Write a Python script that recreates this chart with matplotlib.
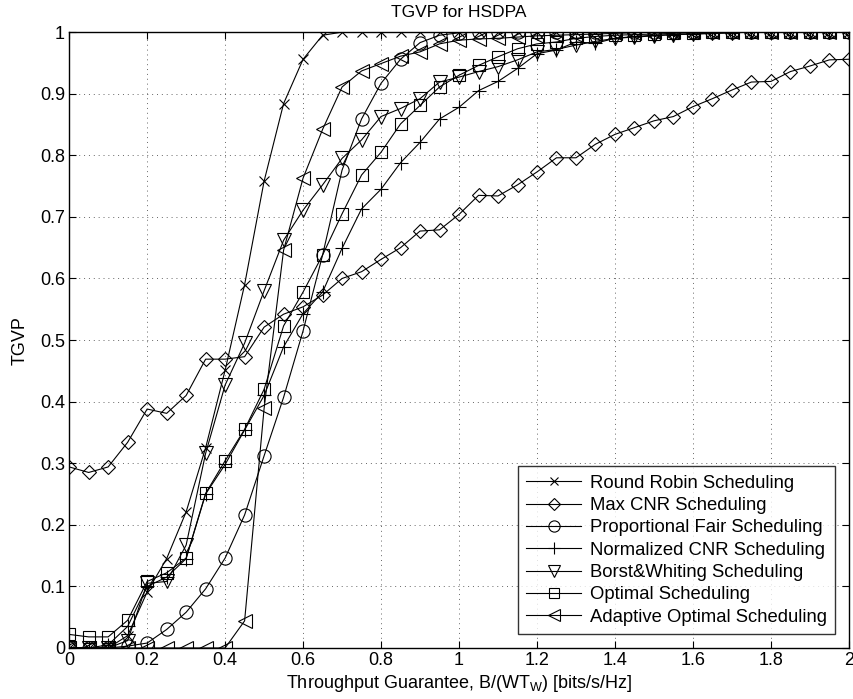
import numpy as np
import matplotlib.pyplot as plt

plt.rcParams['font.family'] = ['Liberation Sans', 'DejaVu Sans']

# 数据: x = 0:0.05:2
x = np.round(np.arange(0, 2.0001, 0.05), 2)

round_robin = [0, 0, 0, 0.02, 0.091, 0.145, 0.221, 0.325, 0.451, 0.590, 0.758, 0.884, 0.956, 0.995,
               1, 1, 1, 1, 1, 1, 1, 1, 1, 1, 1, 1, 1, 1, 1, 1, 1, 1, 1, 1, 1, 1, 1, 1, 1, 1, 1]
max_cnr = [0.294, 0.285, 0.294, 0.334, 0.388, 0.381, 0.410, 0.469, 0.469, 0.473, 0.521, 0.542, 0.554,
           0.573, 0.600, 0.611, 0.631, 0.650, 0.677, 0.679, 0.704, 0.735, 0.734, 0.752, 0.773, 0.796,
           0.796, 0.818, 0.834, 0.845, 0.856, 0.863, 0.879, 0.892, 0.906, 0.919, 0.920, 0.936, 0.945,
           0.955, 0.956]
prop_fair = [0, 0, 0, 0.003, 0.008, 0.030, 0.058, 0.096, 0.146, 0.216, 0.312, 0.407, 0.515, 0.638,
             0.776, 0.859, 0.917, 0.956, 0.983, 0.995, 0.999, 1, 1, 1, 1, 1, 1, 1, 1, 1, 1, 1, 1, 1,
             1, 1, 1, 1, 1, 1, 1]
norm_cnr = [0, 0, 0.005, 0.035, 0.100, 0.115, 0.145, 0.250, 0.298, 0.354, 0.410, 0.489, 0.543, 0.578,
            0.649, 0.713, 0.745, 0.788, 0.821, 0.859, 0.878, 0.905, 0.920, 0.941, 0.965, 0.971, 0.984,
            0.982, 0.990, 0.993, 0.995, 0.996, 0.997, 0.998, 0.999, 1, 1, 1, 1, 1, 1]
borst = [0, 0, 0, 0.012, 0.105, 0.108, 0.167, 0.316, 0.427, 0.495, 0.580, 0.662, 0.711, 0.752, 0.795,
         0.825, 0.863, 0.876, 0.892, 0.919, 0.927, 0.936, 0.944, 0.955, 0.968, 0.972, 0.979, 0.985,
         0.990, 0.992, 0.994, 0.996, 0.997, 0.998, 0.999, 1, 1, 1, 1, 1, 1]
optimal = [0.022, 0.018, 0.018, 0.045, 0.108, 0.122, 0.146, 0.251, 0.304, 0.355, 0.420, 0.523, 0.578,
           0.638, 0.705, 0.768, 0.805, 0.851, 0.881, 0.911, 0.930, 0.946, 0.960, 0.973, 0.981, 0.984,
           0.990, 0.993, 0.995, 0.996, 0.997, 0.998, 0.999, 1, 1, 1, 1, 1, 1, 1, 1]
adaptive = [0, 0, 0, 0, 0, 0, 0, 0, 0, 0.044, 0.389, 0.646, 0.763, 0.842, 0.911, 0.937, 0.949, 0.961,
            0.968, 0.981, 0.987, 0.989, 0.990, 0.992, 0.994, 0.995, 0.996, 0.997, 0.998, 0.999, 1,
            1, 1, 1, 1, 1, 1, 1, 1, 1, 1]

series = [
    (round_robin, 'x', 'Round Robin Scheduling'),
    (max_cnr, 'D', 'Max CNR Scheduling'),
    (prop_fair, 'o', 'Proportional Fair Scheduling'),
    (norm_cnr, '+', 'Normalized CNR Scheduling'),
    (borst, 'v', 'Borst&Whiting Scheduling'),
    (optimal, 's', 'Optimal Scheduling'),
    (adaptive, '<', 'Adaptive Optimal Scheduling'),
]
msizes = {'x': 7, 'D': 7.5, 'o': 9.5, '+': 10, 'v': 9.5, 's': 8.5, '<': 9.5}

fig = plt.figure(figsize=(8.54, 6.99), dpi=100)
ax = fig.add_axes([0.081, 0.073, 0.913, 0.881])

for y, m, lab in series:
    ax.plot(x, y, color='black', linewidth=0.8, marker=m, markersize=msizes[m],
            markerfacecolor='none', markeredgecolor='black', markeredgewidth=0.8, label=lab)

ax.set_xlim(0, 2)
ax.set_ylim(0, 1)
ax.set_xticks(np.arange(0, 2.01, 0.2))
ax.set_yticks(np.arange(0, 1.01, 0.1))
ax.set_xticklabels(['0', '0.2', '0.4', '0.6', '0.8', '1', '1.2', '1.4', '1.6', '1.8', '2'])
ax.set_yticklabels(['0', '0.1', '0.2', '0.3', '0.4', '0.5', '0.6', '0.7', '0.8', '0.9', '1'])
ax.tick_params(direction='in', top=True, right=True, labelsize=13, length=5, pad=3)
ax.grid(True, linestyle=(0, (1, 4)), color='black', linewidth=0.7, alpha=0.6)
for s in ax.spines.values():
    s.set_linewidth(1.0)

ax.set_title('TGVP for HSDPA', fontsize=12.5, pad=11)
ax.set_xlabel('Throughput Guarantee, B/(WT$_\\mathregular{W}$) [bits/s/Hz]', fontsize=13, labelpad=3)
ax.set_ylabel('TGVP', fontsize=13, labelpad=8)

leg = ax.legend(loc='lower right', fontsize=13.3, frameon=True, fancybox=False, edgecolor='black',
                handlelength=3.0, borderaxespad=0.75, labelspacing=0.29, handletextpad=0.45,
                borderpad=0.45, markerscale=0.85)
leg.get_frame().set_linewidth(1.0)

fig.savefig('out.png', dpi=100)
